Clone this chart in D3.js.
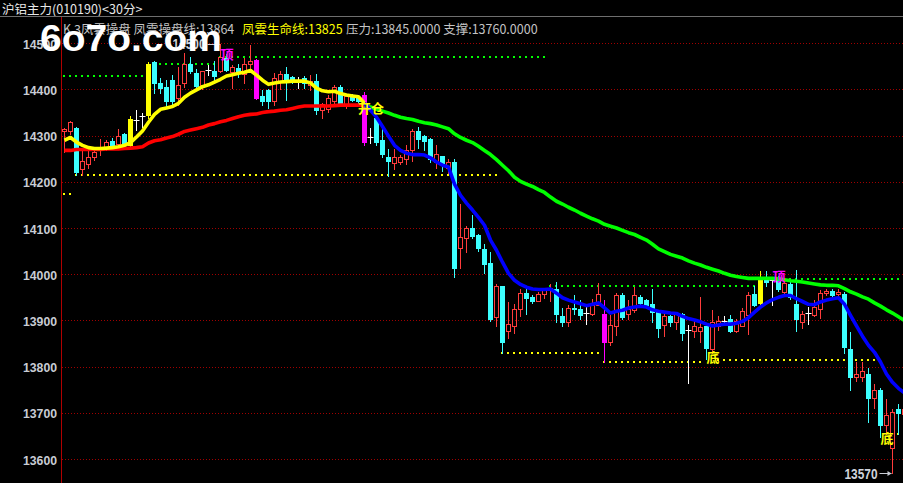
<!DOCTYPE html>
<html><head><meta charset="utf-8">
<script src="https://cdn.jsdelivr.net/npm/d3@7"></script>
<style>html,body{margin:0;padding:0;background:#000;overflow:hidden}</style>
</head><body>
<svg id="c" width="903" height="483"></svg>
<script>
// ---------- data ----------
const chartTitle = "沪铝主力(010190)<30分>";
const legendParts = [
  {text: "K 3凤雲操盘 凤雲操盘线:13864", kind: "gray"},
  {text: "凤雲生命线:13825", kind: "yellow"},
  {text: "压力:13845.0000 支撑:13760.0000", kind: "gray"}
];
const watermark = "6o7o.com";
const yTicks = [13600, 13700, 13800, 13900, 14000, 14100, 14200, 14300, 14400, 14500];

const opens = [14310,14310,14318,14228,14239,14254,14270,14274,14290,14283,
14305,14280,14335,14343,14345,14460,14416,14406,14422,14382,
14414,14456,14436,14411,14443,14441,14440,14468,14438,14447,
14434,14455,14464,14386,14400,14375,14418,14435,14427,14419,
14425,14411,14420,14356,14358,14375,14407,14368,14386,14383,
14390,14298,14339,14292,14254,14241,14245,14250,14270,14310,
14300,14293,14245,14256,14232,14245,14058,14080,14101,14085,
14055,14025,13909,13975,13878,13889,13925,13960,13951,13943,
13959,13966,13970,13910,13898,13929,13925,13917,13914,13935,
13915,13855,13889,13956,13914,13923,13952,13945,13936,13919,
13891,13910,13898,13915,13880,13878,13878,13888,13840,13890,
13900,13905,13878,13890,13912,13959,13939,13992,13988,13992,
13963,13979,13936,13898,13918,13912,13925,13960,13965,13958,
13959,13840,13779,13779,13786,13733,13750,13674,13624,13710,
13698];
const closes = [14316,14330,14223,14246,14254,14265,14277,14288,14276,14300,
14283,14336,14335,14343,14456,14414,14405,14375,14375,14411,
14456,14440,14409,14440,14443,14431,14472,14443,14449,14438,
14456,14463,14382,14375,14375,14425,14435,14420,14421,14419,
14415,14420,14357,14369,14382,14407,14370,14386,14379,14375,
14287,14298,14287,14261,14247,14254,14254,14270,14310,14293,
14290,14250,14261,14239,14243,14015,14081,14102,14083,14058,
14023,13904,13975,13854,13894,13925,13960,13950,13943,13959,
13968,13972,13914,13898,13929,13925,13912,13917,13935,13959,
13855,13891,13956,13909,13925,13956,13939,13934,13919,13885,
13910,13898,13917,13874,13880,13890,13887,13842,13898,13899,
13900,13878,13899,13921,13956,13935,13990,13985,13988,13970,
13981,13952,13904,13915,13918,13930,13960,13965,13955,13962,
13844,13779,13786,13791,13733,13750,13674,13696,13703,13700,
13710];
const highs = [14318,14332,14320,14267,14270,14274,14294,14292,14295,14316,
14307,14343,14357,14349,14460,14462,14425,14422,14432,14450,
14479,14472,14446,14440,14453,14462,14500,14478,14453,14455,
14470,14497,14466,14400,14402,14436,14440,14449,14430,14429,
14430,14432,14435,14372,14390,14410,14410,14390,14392,14388,
14395,14318,14341,14327,14273,14273,14260,14280,14315,14320,
14302,14295,14280,14258,14251,14250,14154,14105,14130,14088,
14066,14050,13979,13976,13940,13936,13969,13974,13955,13963,
13972,13980,13985,13927,13934,13956,13945,13936,13947,13981,
13945,13912,13961,13961,13945,13974,13956,13947,13970,13921,
13915,13913,13919,13917,13891,13905,13952,13890,13923,13910,
13910,13912,13905,13927,13963,13975,14007,14007,13992,13998,
13990,13985,14010,13922,13930,13945,13966,13970,13968,13968,
13962,13876,13812,13812,13797,13764,13755,13730,13710,13720,
13715];
const lows = [14265,14305,14216,14216,14232,14248,14259,14270,14274,14279,
14281,14279,14313,14320,14340,14393,14394,14361,14370,14368,
14407,14437,14405,14403,14432,14421,14438,14440,14405,14428,
14415,14446,14380,14367,14361,14368,14402,14378,14415,14405,
14405,14400,14348,14340,14353,14367,14365,14360,14375,14370,
14280,14286,14280,14254,14214,14228,14240,14240,14247,14275,
14270,14245,14230,14224,14220,13995,14015,14050,14080,14052,
14004,13900,13888,13830,13864,13874,13910,13915,13938,13943,
13950,13943,13897,13888,13888,13916,13905,13893,13912,13934,
13811,13848,13869,13905,13904,13919,13935,13930,13898,13865,
13868,13890,13883,13858,13765,13865,13855,13818,13830,13880,
13895,13876,13876,13890,13871,13932,13937,13975,13934,13965,
13960,13948,13878,13885,13894,13910,13907,13955,13950,13950,
13830,13750,13770,13770,13681,13712,13649,13656,13570,13655,
13690];

// 凤雲操盘线 (short line) and 凤雲生命线 (long line), one value per bar
const shortLine = [14291,14297,14287,14280,14275,14273,14273,14274,14275,14277,
14280,14286,14298,14311,14330,14347,14358,14361,14364,14371,
14384,14393,14400,14407,14411,14417,14423,14430,14433,14436,
14438,14442,14432,14421,14412,14415,14417,14418,14419,14419,
14419,14415,14404,14398,14396,14397,14392,14389,14387,14385,
14371,14356,14341,14321,14300,14280,14269,14263,14260,14260,
14259,14253,14244,14237,14233,14196,14172,14155,14140,14124,
14107,14075,14053,14027,14003,13988,13979,13973,13969,13968,
13968,13969,13960,13950,13945,13941,13937,13933,13936,13939,
13928,13917,13921,13923,13928,13930,13932,13930,13924,13921,
13919,13917,13916,13910,13905,13902,13898,13893,13889,13891,
13893,13893,13895,13899,13907,13919,13930,13939,13946,13951,
13955,13955,13948,13942,13936,13935,13941,13945,13948,13950,
13936,13912,13889,13867,13847,13832,13811,13785,13767,13754,
13744];
const longLine = [14269,14269,14271,14271,14271,14271,14271,14272,14272,14272,
14273,14274,14275,14277,14285,14290,14292,14296,14299,14304,
14310,14313,14316,14319,14324,14327,14331,14334,14338,14342,
14345,14347,14348,14351,14353,14354,14356,14357,14360,14363,
14365,14365,14365,14365,14365,14366,14367,14367,14367,14367,
14366,14363,14358,14354,14350,14345,14341,14338,14336,14332,
14329,14327,14324,14320,14316,14305,14297,14291,14286,14278,
14269,14260,14249,14237,14225,14211,14202,14196,14191,14184,
14178,14168,14159,14153,14146,14140,14133,14127,14121,14116,
14109,14105,14101,14096,14091,14087,14081,14075,14066,14056,
14050,14044,14040,14036,14030,14025,14021,14016,14012,14008,
14003,13999,13996,13994,13992,13992,13992,13992,13992,13991,
13989,13987,13986,13984,13982,13980,13978,13977,13977,13976,
13970,13963,13958,13952,13947,13939,13932,13924,13917,13909,
13901];
const trendSwitch = 50;           // bar where the lines change colour (开仓)
const yellowBars = [11, 14, 116];
const magentaBars = [32, 50, 90];

// support / resistance levels: [fromBar, toBar, price, kind]
const levelFrom  = [0, 15, 26, 81, 121, 0, 2, 73, 90, 109, 139];
const levelTo    = [13, 25, 80, 115, 140, 1, 72, 89, 106, 135, 140];
const levelPrice = [14430, 14456, 14471, 13976, 13990, 14174, 14215, 13831, 13811, 13816, 13656];
const levelKind  = ["res","res","res","res","res","sup","sup","sup","sup","sup","sup"];

// signal labels: bar, price, text, kind
const signalBar   = [27, 51, 108, 119, 137];
const signalPrice = [14477, 14361, 13821, 13996, 13647];
const signalText  = ["顶", "开仓", "底", "顶", "底"];
const signalKind  = ["top", "open", "bottom", "top", "bottom"];

// ---------- drawing ----------
const W = 903, H = 483;
const svg = d3.select("#c");
svg.append("rect").attr("width", W).attr("height", H).attr("fill", "#000");

const n = opens.length;
const xs = d3.scaleLinear().domain([0, 140]).range([64.5, 904.5]);
const ys = d3.scaleLinear().domain([13600, 14500]).range([459.5, 43.7]);
const py = v => Math.round(ys(v));

const CJK = "'Noto Sans CJK SC','Noto Sans',sans-serif";
const NUM = "'Liberation Sans',Arial,sans-serif";

// header
svg.append("text").attr("x", 2).attr("y", 14).attr("fill", "#e8e8e8")
  .attr("font-family", CJK).attr("font-size", 12.5).text(chartTitle);
svg.append("line").attr("x1", 0).attr("x2", W).attr("y1", 16.5).attr("y2", 16.5)
  .attr("stroke", "#6e6e6e").attr("stroke-width", 1);

const legendX = [63, 242, 346];
legendParts.forEach((p, i) => {
  svg.append("text").attr("x", legendX[i]).attr("y", 34)
    .attr("fill", p.kind === "yellow" ? "#ffff00" : "#c4c4c4")
    .attr("font-family", CJK).attr("font-size", 12.5).text(p.text);
});

// grid
const grid = svg.append("g");
yTicks.forEach(t => {
  const y = Math.floor(ys(t)) + 0.5;
  grid.append("line").attr("x1", 62).attr("x2", W).attr("y1", y).attr("y2", y)
    .attr("stroke", "#a00000").attr("stroke-width", 1).attr("stroke-dasharray", "1,2");
});
// axis
const yAxis = d3.axisLeft(ys).tickValues(yTicks).tickSize(0).tickPadding(0).tickFormat(d3.format("d"));
const ag = svg.append("g").attr("transform", "translate(57,0)").call(yAxis);
ag.select(".domain").remove();
ag.selectAll("text").attr("fill", "#c8ccd4").attr("font-family", NUM)
  .attr("font-size", 13).attr("font-weight", "bold").attr("textLength", 34)
  .attr("lengthAdjust", "spacingAndGlyphs").attr("dy", "0.36em");
svg.append("line").attr("x1", 61.5).attr("x2", 61.5).attr("y1", 17).attr("y2", H)
  .attr("stroke", "#b00000").attr("stroke-width", 1);

// levels (dotted)
const lv = svg.append("g");
levelPrice.forEach((p, k) => {
  const y = Math.round(ys(p));
  lv.append("line").attr("x1", xs(levelFrom[k]) - 1.5).attr("x2", xs(levelTo[k]) + 2.5)
    .attr("y1", y).attr("y2", y)
    .attr("stroke", levelKind[k] === "res" ? "#00ff00" : "#ffff00")
    .attr("stroke-width", 2).attr("stroke-dasharray", "2,4");
});

// candles
const cg = svg.append("g");
const CYAN = "#3cffff", RED = "#ff3c3c";
for (let i = 0; i < n; i++) {
  const o = opens[i], c = closes[i], h = highs[i], l = lows[i];
  const x = xs(i);
  const yT = py(Math.max(o, c)), yB = py(Math.min(o, c));
  if (o === c) {
    cg.append("line").attr("x1", x).attr("x2", x).attr("y1", py(h)).attr("y2", py(l) + 1)
      .attr("stroke", "#ffffff");
    cg.append("line").attr("x1", x - 3).attr("x2", x + 3).attr("y1", yT + 0.5).attr("y2", yT + 0.5)
      .attr("stroke", "#ffffff");
    continue;
  }
  let fill = null, col;
  if (yellowBars.includes(i)) fill = "#ffff00";
  else if (magentaBars.includes(i)) fill = "#ff00ff";
  else if (c < o) fill = CYAN;
  if (fill) {
    col = fill;
    cg.append("line").attr("x1", x).attr("x2", x).attr("y1", py(h)).attr("y2", py(l) + 1)
      .attr("stroke", col);
    cg.append("rect").attr("x", x - 2.5).attr("width", 5)
      .attr("y", yT).attr("height", Math.max(1, yB - yT + 1)).attr("fill", col);
  } else {
    col = RED;
    cg.append("line").attr("x1", x).attr("x2", x).attr("y1", py(h)).attr("y2", yT)
      .attr("stroke", col);
    cg.append("line").attr("x1", x).attr("x2", x).attr("y1", yB + 1).attr("y2", py(l) + 1)
      .attr("stroke", col);
    cg.append("rect").attr("x", x - 2).attr("width", 4)
      .attr("y", yT + 0.5).attr("height", Math.max(1, yB - yT))
      .attr("fill", "none").attr("stroke", col).attr("stroke-width", 1);
  }
}

// indicator lines
const lineGen = d3.line().x(d => xs(d.i)).y(d => ys(d.v));
function seg(arr, a, b) { const r = []; for (let i = a; i <= b; i++) r.push({i, v: arr[i]}); return r; }
const lg = svg.append("g").attr("fill", "none").attr("stroke-width", 3.6)
  .attr("stroke-linejoin", "round").attr("stroke-linecap", "butt");
lg.append("path").attr("d", lineGen(seg(longLine, 0, trendSwitch))).attr("stroke", "#ff0000");
lg.append("path").attr("d", lineGen(seg(longLine, trendSwitch, n - 1))).attr("stroke", "#00ff00");
lg.append("path").attr("d", lineGen(seg(shortLine, 0, trendSwitch))).attr("stroke", "#ffff00");
lg.append("path").attr("d", lineGen(seg(shortLine, trendSwitch, n - 1))).attr("stroke", "#0000ff");

// signal labels
const sg = svg.append("g");
signalBar.forEach((b, k) => {
  const kind = signalKind[k];
  sg.append("text").attr("x", xs(b) + 0.5).attr("y", ys(signalPrice[k]))
    .attr("dy", "0.38em").attr("text-anchor", "middle")
    .attr("fill", kind === "top" ? "#ff00ff" : "#ffff00")
    .attr("font-family", CJK).attr("font-weight", "bold").attr("font-size", 13)
    .text(signalText[k]);
});

// max / min price markers
const iMax = d3.maxIndex(highs), iMin = d3.minIndex(lows);
function priceMark(i, v) {
  const x = xs(i), y = ys(v);
  const g = svg.append("g");
  g.append("line").attr("x1", x - 13).attr("x2", x - 1).attr("y1", Math.round(y) + 0.5).attr("y2", Math.round(y) + 0.5)
    .attr("stroke", "#c8ccd4").attr("stroke-width", 1);
  g.append("path").attr("d", `M${x - 1},${Math.round(y) + 0.5} l-4,-2.5 v5 z`).attr("fill", "#c8ccd4");
  g.append("text").attr("x", x - 15).attr("y", y).attr("dy", "0.38em").attr("text-anchor", "end")
    .attr("fill", "#d0d4dc").attr("font-family", NUM).attr("font-weight", "bold")
    .attr("font-size", 14).attr("textLength", 33).attr("lengthAdjust", "spacingAndGlyphs")
    .text(d3.format("d")(v));
}
priceMark(iMax, highs[iMax]);
priceMark(iMin, lows[iMin]);

// watermark
svg.append("text").attr("x", 40).attr("y", 51).attr("fill", "#ffffff")
  .attr("font-family", NUM).attr("font-weight", "bold").attr("font-size", 37)
  .attr("textLength", 182).attr("lengthAdjust", "spacingAndGlyphs").text(watermark);
</script>
</body></html>
